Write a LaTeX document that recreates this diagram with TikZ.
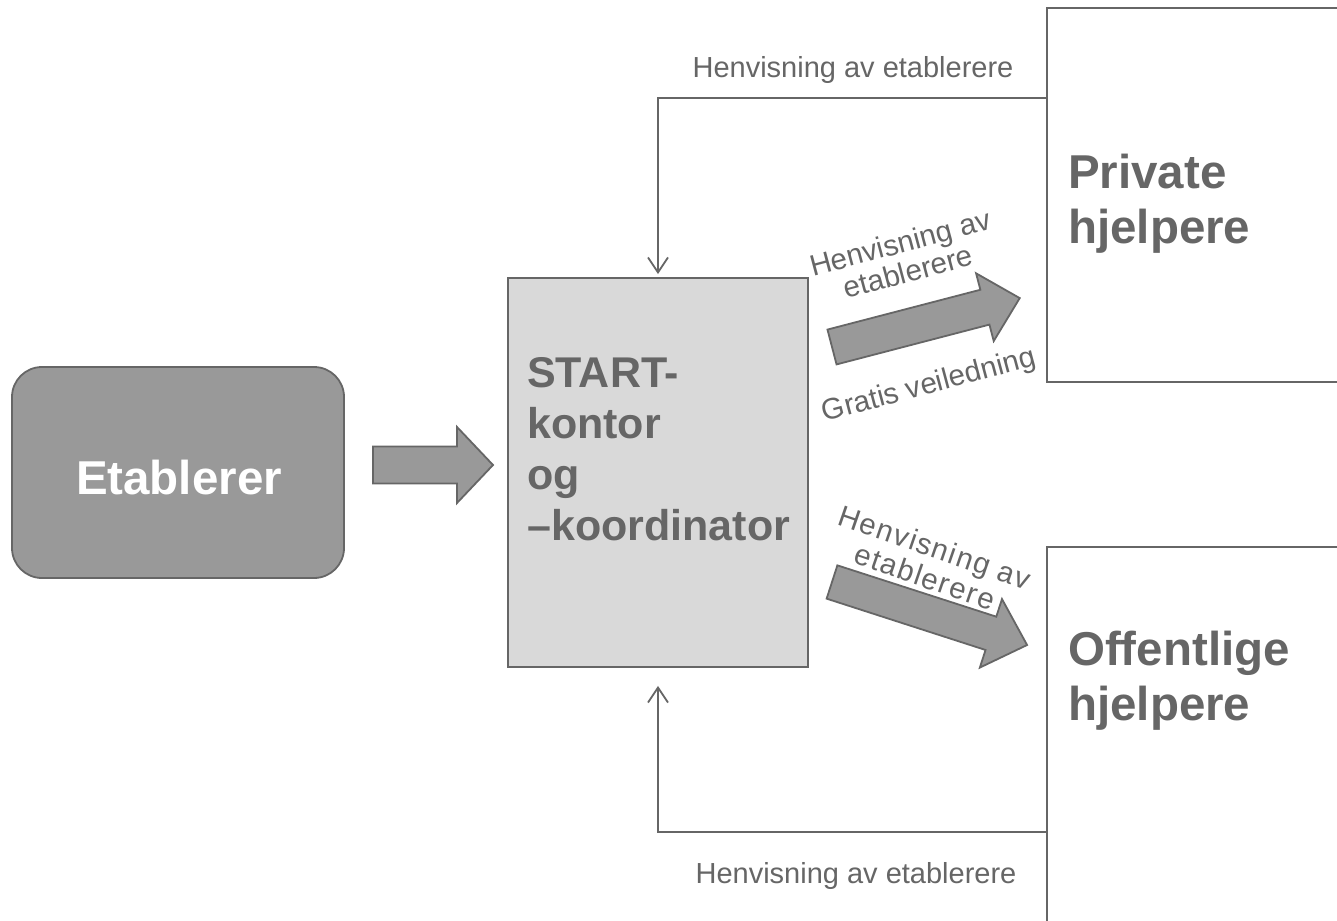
\documentclass[tikz,border=0pt]{standalone}
\usepackage{fontspec}
\setmainfont{Liberation Sans}
\usetikzlibrary{arrows.meta}
\definecolor{lc}{HTML}{666666}
\definecolor{tc}{HTML}{666666}
\definecolor{startfill}{HTML}{D9D9D9}
\definecolor{darkfill}{HTML}{999999}
% x, y, angle, length, shaft half width, head half width, head length
\newcommand\blockarrow[7]{%
  \draw[barrow, shift={(#1,#2)}, rotate=#3]
    (0,-#5) -- ({#4-#7},-#5) -- ({#4-#7},-#6) -- (#4,0) -- ({#4-#7},#6) -- ({#4-#7},#5) -- (0,#5) -- cycle;}
\begin{document}
\begin{tikzpicture}[x=1pt,y=-1pt,
  box/.style={draw=lc, line width=1.8pt, inner sep=0pt},
  bigtxt/.style={text=tc, font=\fontsize{47.5}{55}\selectfont\bfseries, inner sep=0pt, anchor=base west},
  sttxt/.style={text=tc, font=\fontsize{43}{51}\selectfont\bfseries, inner sep=0pt, anchor=base west},
  lbl/.style={text=tc, font=\fontsize{29}{32}\selectfont, inner sep=0pt},
  dlbl/.style={text=tc, font=\fontsize{29.5}{30}\selectfont, inner sep=0pt, align=center},
  fb/.style={draw=lc, line width=1.8pt, -{Straight Barb[length=15pt,width=20pt]}},
  barrow/.style={draw=lc, fill=darkfill, line width=1.8pt, line join=miter}]
\useasboundingbox (0,0) rectangle (1337,920);
\fill[white] (0,0) rectangle (1337,920);
\clip (0,0) rectangle (1337,920);

% boxes
\node[box, fill=darkfill, rounded corners=30pt, minimum width=332pt, minimum height=211pt] (etab) at (178,472.5) {};
\node[text=white, font=\fontsize{47.5}{55}\selectfont\bfseries, inner sep=0pt] (etabtxt) at (179,478) {Etablerer};

\node[box, fill=startfill, minimum width=300pt, minimum height=389pt] (start) at (658,472.5) {};
\node[sttxt] (st1) at (527,387) {START-};
\node[sttxt] (st2) at (527,438) {kontor};
\node[sttxt] (st3) at (527,489) {og};
\node[sttxt] (st4) at (527,540) {–koordinator};

\node[box, fill=white, minimum width=300pt, minimum height=374pt] (priv) at (1197,195) {};
\node[bigtxt] (pr1) at (1068,188) {Private};
\node[bigtxt] (pr2) at (1068,243) {hjelpere};

\node[box, fill=white, minimum width=300pt, minimum height=383pt] (off) at (1197,738.5) {};
\node[bigtxt] (of1) at (1068,665) {Offentlige};
\node[bigtxt] (of2) at (1068,720) {hjelpere};

% block arrows
\blockarrow{373}{465}{0}{120}{18.5}{38}{36}
\blockarrow{832}{347}{14.6}{194}{18}{35}{36}
\blockarrow{832}{582}{-17.9}{205}{17.5}{36}{38}

% feedback connectors
\draw[fb] (priv.west |- 0,98) -| ([yshift=3pt]start.north);
\draw[fb] (off.west |- 0,832) -| ([yshift=-18pt]start.south);

% labels
\node[lbl, anchor=base] (ltop) at (853,78) {Henvisning av etablerere};
\node[lbl, anchor=base] (lbot) at (856,883) {Henvisning av etablerere};
\node[dlbl, rotate=15] (lup) at (904,257) {Henvisning av\\etablerere};
\node[dlbl, rotate=15] (lgr) at (929,386) {Gratis veiledning};
\node[dlbl, rotate=-19, font=\fontsize{29.5}{31}\selectfont\addfontfeature{LetterSpace=5}] (llow) at (930,562) {Henvisning av\\etablerere};
\end{tikzpicture}
\end{document}
